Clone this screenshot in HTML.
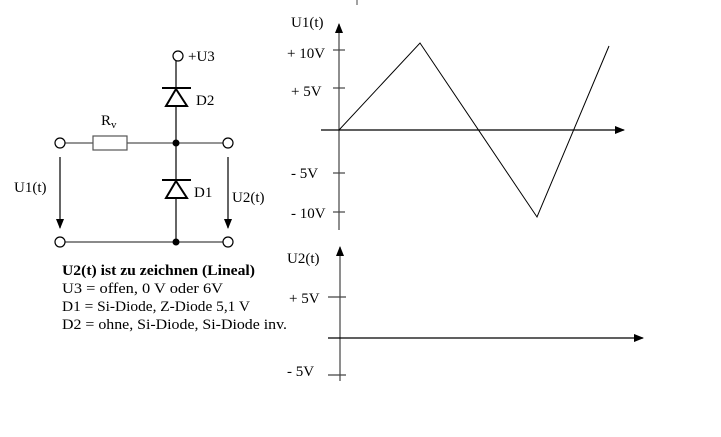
<!DOCTYPE html>
<html><head><meta charset="utf-8"><style>
html,body{margin:0;padding:0;background:#fff;}
svg{display:block;}
text{font-family:"Liberation Serif",serif;font-size:15px;fill:#000;}
</style></head><body>
<svg width="721" height="437" viewBox="0 0 721 437" xmlns="http://www.w3.org/2000/svg">
<defs>
<marker id="a" markerWidth="10" markerHeight="8" refX="9" refY="4" orient="auto" markerUnits="userSpaceOnUse"><path d="M0,0 L10,4 L0,8 z" fill="#000"/></marker>
</defs>
<line x1="357" y1="0" x2="357" y2="5" stroke="#444" stroke-width="1"/>
<g stroke="#000" stroke-width="1.2" fill="none">
<line x1="176" y1="61" x2="176" y2="242"/>
<line x1="65" y1="143" x2="93" y2="143" stroke="#555"/>
<rect x="93" y="136" width="34" height="14" stroke="#555"/>
<line x1="127" y1="143" x2="223" y2="143" stroke="#555"/>
<line x1="65" y1="242" x2="223" y2="242" stroke="#444"/>
<circle cx="178" cy="56" r="5" fill="#fff"/>
<circle cx="60" cy="143" r="5" fill="#fff"/>
<circle cx="228" cy="143" r="5" fill="#fff"/>
<circle cx="60" cy="242" r="5" fill="#fff"/>
<circle cx="228" cy="242" r="5" fill="#fff"/>
<line x1="162" y1="88" x2="191" y2="88" stroke-width="2"/>
<path d="M176,89 L166,106 L187,106 Z" stroke-width="2" fill="#fff"/>
<line x1="162" y1="180" x2="191" y2="180" stroke-width="2"/>
<path d="M176,181 L166,198 L187,198 Z" stroke-width="2" fill="#fff"/>
<line x1="60" y1="157" x2="60" y2="228" marker-end="url(#a)"/>
<line x1="228" y1="157" x2="228" y2="228" marker-end="url(#a)"/>
</g>
<circle cx="176" cy="143" r="3.5" fill="#000"/>
<circle cx="176" cy="242" r="3.5" fill="#000"/>
<text x="188" y="61" font-size="16">+U3</text>
<text x="196" y="105" font-size="16">D2</text>
<text x="194" y="197" font-size="16">D1</text>
<text x="101" y="125" font-size="16">R<tspan font-size="11" dy="3">v</tspan></text>
<text x="14" y="192" font-size="16">U1(t)</text>
<text x="232" y="202" font-size="16">U2(t)</text>
<text x="62" y="275" font-size="16" font-weight="bold" textLength="193" lengthAdjust="spacingAndGlyphs">U2(t) ist zu zeichnen (Lineal)</text>
<text x="62" y="293" font-size="16" textLength="161" lengthAdjust="spacingAndGlyphs">U3 = offen, 0 V oder 6V</text>
<text x="62" y="311" font-size="16" textLength="188" lengthAdjust="spacingAndGlyphs">D1 = Si-Diode, Z-Diode 5,1 V</text>
<text x="62" y="329" font-size="16" textLength="225" lengthAdjust="spacingAndGlyphs">D2 = ohne, Si-Diode, Si-Diode inv.</text>
<g stroke="#000" stroke-width="1.2" fill="none">
<line x1="339" y1="230" x2="339" y2="24" stroke="#444" marker-end="url(#a)"/>
<line x1="321" y1="130" x2="624" y2="130" marker-end="url(#a)"/>
<line x1="333" y1="50" x2="345" y2="50" stroke="#444"/>
<line x1="333" y1="88" x2="345" y2="88" stroke="#444"/>
<line x1="333" y1="173" x2="345" y2="173" stroke="#444"/>
<line x1="333" y1="212" x2="345" y2="212" stroke="#444"/>
<polyline points="339,130 420,43 537,217 609,46" stroke-width="1"/>
</g>
<text x="291" y="27">U1(t)</text>
<text x="287" y="58">+ 10V</text>
<text x="291" y="96">+ 5V</text>
<text x="291" y="178">- 5V</text>
<text x="291" y="218">- 10V</text>
<g stroke="#000" stroke-width="1.2" fill="none">
<line x1="340" y1="381" x2="340" y2="247" stroke="#444" marker-end="url(#a)"/>
<line x1="328" y1="338" x2="643" y2="338" marker-end="url(#a)"/>
<line x1="328" y1="297" x2="346" y2="297" stroke="#444"/>
<line x1="328" y1="375" x2="346" y2="375" stroke="#444"/>
</g>
<text x="287" y="263">U2(t)</text>
<text x="289" y="303">+ 5V</text>
<text x="287" y="376">- 5V</text>
</svg>
</body></html>
